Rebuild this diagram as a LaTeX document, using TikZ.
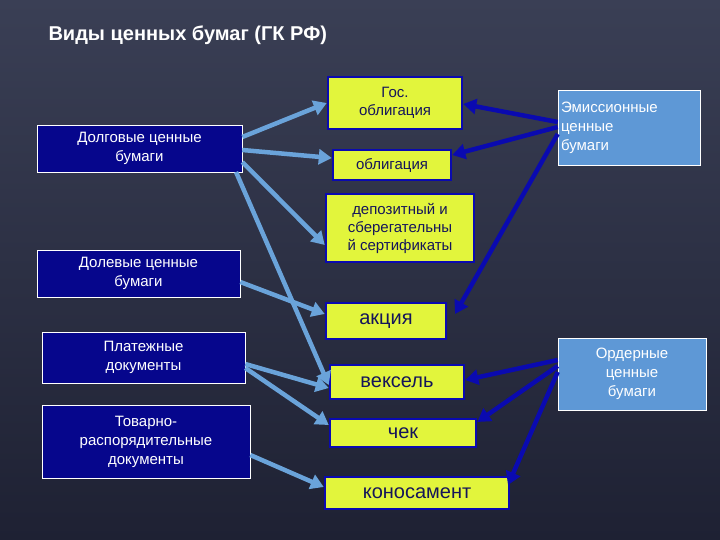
\documentclass[tikz,border=0pt]{standalone}
\usepackage{fontspec}
\setmainfont{Liberation Sans}
\usetikzlibrary{arrows.meta}
\definecolor{bgA}{HTML}{3A3F55}
\definecolor{bgB}{HTML}{1E2133}
\definecolor{ybox}{HTML}{E2F53C}
\definecolor{dbox}{HTML}{06068C}
\definecolor{ytxt}{HTML}{15155A}
\definecolor{lbox}{HTML}{5E98D6}
\definecolor{larr}{HTML}{6AA3DA}
\definecolor{darr}{HTML}{0A0AB0}
\begin{document}
\begin{tikzpicture}[x=1pt,y=-1pt,
 ybx/.style={draw=darr,line width=2.5pt,fill=ybox,text=ytxt,align=center,inner sep=0pt,font=\fontsize{15}{18}\selectfont},
 dbx/.style={draw=white,line width=0.6pt,fill=dbox,text=white,align=center,inner sep=0pt,font=\fontsize{15}{19}\selectfont},
 lbx/.style={draw=white,line width=0.6pt,fill=lbox,text=white,inner sep=0pt,font=\fontsize{15}{19}\selectfont},
 la/.style={draw=larr,line width=4.5pt,-{Triangle[length=13pt,width=15pt]}},
 da/.style={draw=darr,line width=4.5pt,-{Triangle[length=13pt,width=15pt]}}]
\useasboundingbox (0,0) rectangle (720,540);
\shade[top color=bgA,bottom color=bgB] (0,0) rectangle (720,540);
\node[anchor=west,text=white,font=\bfseries\fontsize{20}{22}\selectfont] (title) at (45,35) {Виды ценных бумаг (ГК РФ)};
% yellow
\node[ybx,minimum width=134pt,minimum height=52pt] (gos) at (395,103) {Гос.\\облигация};
\node[ybx,minimum width=118pt,minimum height=30pt] (obl) at (392,165) {облигация};
\node[ybx,minimum width=148pt,minimum height=68pt] (dep) at (400,228) {депозитный и\\сберегательны\\й сертификаты};
\node[ybx,minimum width=120pt,minimum height=36pt,font=\fontsize{20}{22}\selectfont] (akc) at (386,321) {акция};
\node[ybx,minimum width=134pt,minimum height=34pt,font=\fontsize{20}{22}\selectfont] (vek) at (397,382) {вексель};
\node[ybx,minimum width=146pt,minimum height=28pt,font=\fontsize{20}{22}\selectfont] (chek) at (403,433) {чек};
\node[ybx,minimum width=184pt,minimum height=32pt,font=\fontsize{20}{22}\selectfont] (kon) at (417,493) {коносамент};
% dark
\node[dbx,minimum width=205pt,minimum height=47pt] (dolg) at (139.5,148.5) {Долговые ценные\\бумаги};
\node[dbx,minimum width=203pt,minimum height=47pt] (dolev) at (138.5,273.5) {Долевые ценные\\бумаги};
\node[dbx,minimum width=203pt,minimum height=51pt] (plat) at (143.5,357.5) {Платежные\\документы};
\node[dbx,minimum width=208pt,minimum height=73pt] (tov) at (146,441.5) {Товарно-\\распорядительные\\документы};
% light
\node[lbx,minimum width=142pt,minimum height=75pt,align=left,text width=136pt] (emi) at (629,127.5) {Эмиссионные\\ценные\\бумаги};
\node[lbx,minimum width=148pt,minimum height=72pt,align=center] (ord) at (632,374) {Ордерные\\ценные\\бумаги};
% light arrows
\draw[la] (dolg.east|-0,137) -- (gos.west|-0,103);
\draw[la] (dolg.east|-0,150) -- (obl.west|-0,158);
\draw[la] (dolg.east|-0,162) -- (dep.west|-0,245);
\draw[la] (236,172) -- (vek.west|-0,385);
\draw[la] (dolev.east|-0,282) -- (akc.west|-0,314);
\draw[la] (plat.east|-0,364) -- (vek.west|-0,388);
\draw[la] (plat.east|-0,368) -- (chek.west|-0,425);
\draw[la] (tov.east|-0,455) -- (kon.west|-0,487);
% dark arrows
\draw[da] (emi.west|-0,122) -- (gos.east|-0,104);
\draw[da] (emi.west|-0,127) -- (obl.east|-0,155);
\draw[da] (emi.west|-0,134) -- (455,314);
\draw[da] (ord.west|-0,360) -- (vek.east|-0,380);
\draw[da] (ord.west|-0,366) -- (chek.east|-0,422);
\draw[da] (ord.west|-0,372) -- (508,485);
\end{tikzpicture}
\end{document}
